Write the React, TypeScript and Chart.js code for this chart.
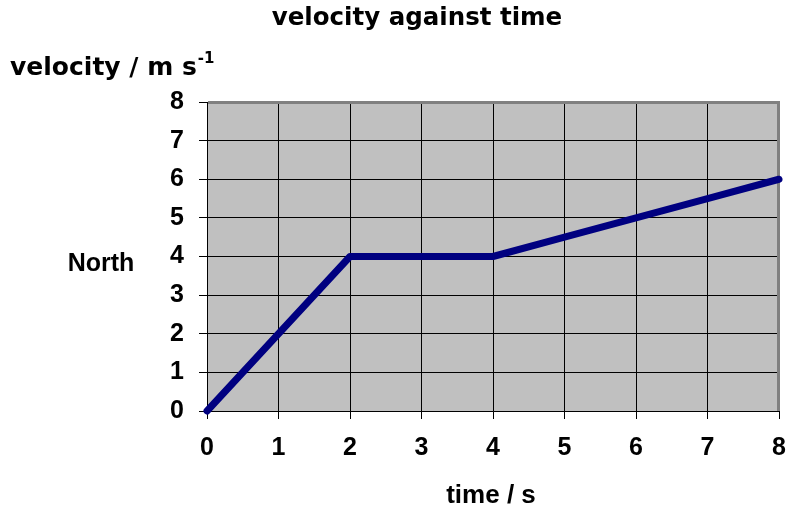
import React, { useEffect, useRef } from "react";
import { Chart, registerables } from "chart.js";

Chart.register(...registerables);

const chartTitle = "velocity against time";
const yTitle = "velocity / m s";
const ySup = "-1";
const yDirection = "North";
const xTitle = "time / s";
const timeValues = [0, 1, 2, 3, 4, 5, 6, 7, 8];
const velocityValues = [0, 2, 4, 4, 4, 4.5, 5, 5.5, 6];
const xTicks = [0, 1, 2, 3, 4, 5, 6, 7, 8];
const yTicks = [0, 1, 2, 3, 4, 5, 6, 7, 8];

const HUMANIST = "'DejaVu Sans', sans-serif";
const ARIAL = "'Liberation Sans', Arial, sans-serif";

const decorPlugin = {
  id: "decor",
  beforeDraw(chart: any) {
    const { ctx, chartArea } = chart;
    ctx.save();
    ctx.fillStyle = "#ffffff";
    ctx.fillRect(0, 0, chart.width, chart.height);
    ctx.fillStyle = "#c0c0c0";
    ctx.fillRect(chartArea.left, chartArea.top, chartArea.right - chartArea.left, chartArea.bottom - chartArea.top);
    ctx.restore();
  },
  beforeDatasetsDraw(chart: any) {
    const { ctx, chartArea } = chart;
    ctx.save();
    ctx.strokeStyle = "#808080";
    ctx.lineWidth = 3;
    ctx.beginPath();
    ctx.moveTo(chartArea.left + 1, chartArea.top + 0.5);
    ctx.lineTo(chartArea.right - 0.5, chartArea.top + 0.5);
    ctx.lineTo(chartArea.right - 0.5, chartArea.bottom);
    ctx.stroke();
    ctx.restore();
  },
  afterDraw(chart: any) {
    const { ctx } = chart;
    ctx.save();
    ctx.fillStyle = "#000000";
    ctx.textBaseline = "middle";
    ctx.textAlign = "center";
    ctx.font = "bold 24.5px " + HUMANIST;
    ctx.fillText(chartTitle, 417, 19);
    ctx.font = "bold 26px " + ARIAL;
    ctx.fillText(xTitle, 491, 496);
    ctx.font = "bold 25px " + ARIAL;
    ctx.fillText(yDirection, 101, 264);
    ctx.textAlign = "left";
    ctx.font = "bold 25px " + HUMANIST;
    ctx.fillText(yTitle, 10, 68);
    const w = ctx.measureText(yTitle).width;
    ctx.font = "bold 15px " + HUMANIST;
    ctx.fillText(ySup, 10 + w + 1, 59);
    ctx.restore();
  },
};

export default function App() {
  const ref = useRef<HTMLCanvasElement>(null);
  useEffect(() => {
    const canvas = ref.current!;
    const chart = new Chart(canvas, {
      type: "line",
      data: {
        datasets: [
          {
            data: timeValues.map((t, i) => ({ x: t, y: velocityValues[i] })),
            borderColor: "#000080",
            borderWidth: 7,
            pointRadius: 0,
            borderCapStyle: "round",
            borderJoinStyle: "round",
            tension: 0,
            fill: false,
            clip: false,
          },
        ],
      },
      plugins: [decorPlugin],
      options: {
        animation: false,
        responsive: false,
        maintainAspectRatio: false,
        layout: { padding: { top: 102, left: 0, right: 10, bottom: 0 } },
        plugins: { legend: { display: false }, title: { display: false }, tooltip: { enabled: false } },
        scales: {
          x: {
            type: "linear",
            min: xTicks[0],
            max: xTicks[xTicks.length - 1],
            afterBuildTicks(scale: any) {
              scale.ticks = xTicks.map((v) => ({ value: v }));
            },
            afterFit(scale: any) {
              scale.height = 510 - 411;
              scale.paddingLeft = 0;
              scale.paddingRight = 0;
            },
            grid: { color: "#000000", lineWidth: 1, tickLength: 8, tickColor: "#000000" },
            border: { color: "#000000", width: 1 },
            ticks: { color: "#000000", padding: 14, font: { family: ARIAL, size: 25, weight: "bold" } },
          },
          y: {
            type: "linear",
            min: yTicks[0],
            max: yTicks[yTicks.length - 1],
            afterBuildTicks(scale: any) {
              scale.ticks = yTicks.map((v) => ({ value: v }));
            },
            afterFit(scale: any) {
              scale.width = 207;
              scale.paddingTop = 0;
              scale.paddingBottom = 0;
            },
            grid: { color: "#000000", lineWidth: 1, tickLength: 8, tickColor: "#000000" },
            border: { color: "#000000", width: 1 },
            ticks: { color: "#000000", padding: 15, font: { family: ARIAL, size: 25, weight: "bold" } },
          },
        },
      } as any,
    });
    return () => chart.destroy();
  }, []);
  return (
    <div style={{ position: "fixed", left: 0, top: 0, width: 789, height: 510 }}>
      <canvas ref={ref} width={789} height={510} style={{ width: 789, height: 510 }} />
    </div>
  );
}
